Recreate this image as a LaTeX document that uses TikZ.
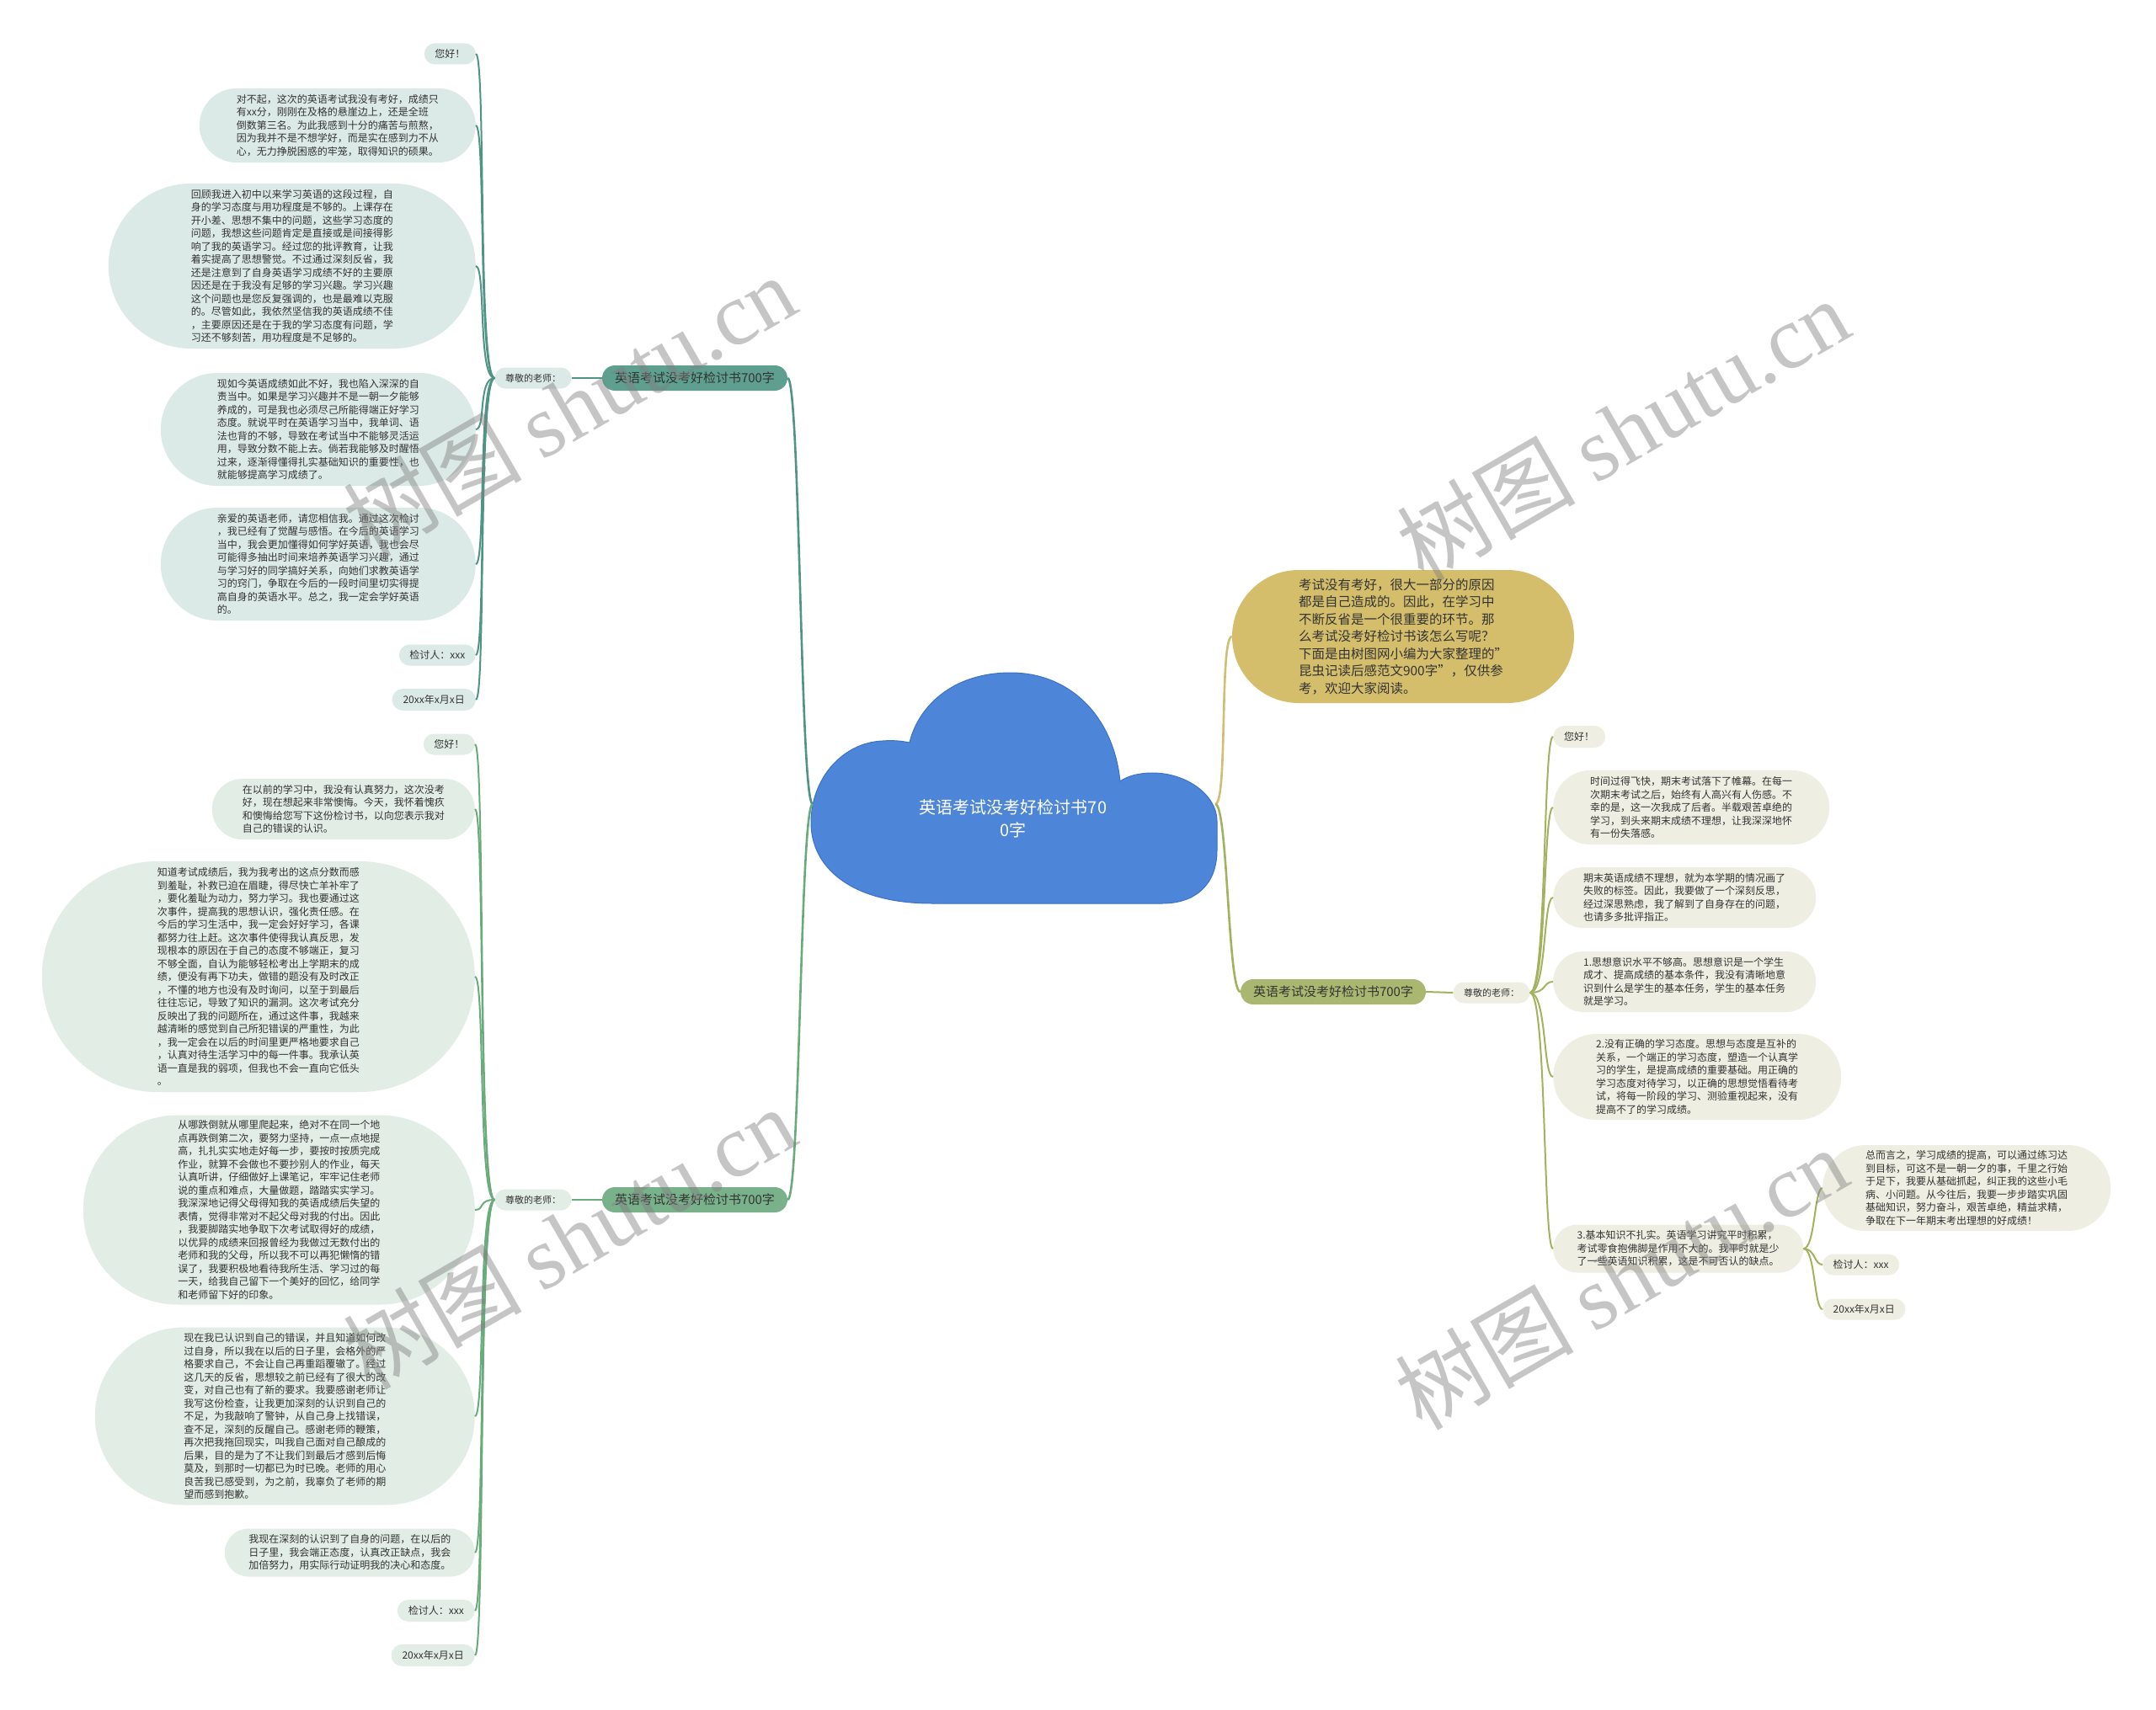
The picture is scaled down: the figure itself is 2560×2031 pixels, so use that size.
\documentclass[tikz,border=0pt]{standalone}
\usepackage{fontspec}
\setmainfont{Noto Sans CJK SC}
\newfontfamily\wmserif{Liberation Serif}
\definecolor{textdark}{HTML}{333333}
\definecolor{lineA}{HTML}{4F9484}
\definecolor{nodeA}{HTML}{5E9F8F}
\definecolor{leafA}{HTML}{DCEAE7}
\definecolor{lineB}{HTML}{6AAB7C}
\definecolor{nodeB}{HTML}{79B18A}
\definecolor{leafB}{HTML}{E2EDE5}
\definecolor{lineC}{HTML}{A3B25F}
\definecolor{nodeC}{HTML}{AAB771}
\definecolor{leafC}{HTML}{EEEEE2}
\definecolor{gold}{HTML}{D5BE6B}
\definecolor{goldline}{HTML}{CFBE74}
\definecolor{cloudfill}{HTML}{4D86D8}
\definecolor{cloudedge}{HTML}{3C72C8}
\begin{document}
\begin{tikzpicture}[x=1pt,y=-1pt,
  stad/.style={rectangle, minimum height=2*#1, inner xsep=#1, inner ysep=0pt, rounded corners=#1},
  leaf/.style={stad=#1, align=left, font=\fontsize{12}{15.5}\selectfont, text=textdark},
  leafA/.style={leaf=#1, fill=leafA},
  leafB/.style={leaf=#1, fill=leafB},
  leafC/.style={leaf=#1, fill=leafC},
  lab/.style={stad=12.5pt, font=\fontsize{11}{13}\selectfont, text=textdark},
  branch/.style={stad=15pt, font=\fontsize{15}{18}\selectfont, text=textdark},
  mainline/.style={line width=2.6pt},
  subline/.style={line width=2pt},
  wm/.style={rotate=30, text=gray, opacity=0.45, font=\fontsize{106}{110}\selectfont},
]
\useasboundingbox (0,0) rectangle (2560,2031);
\fill[white] (0,0) rectangle (2560,2031);

% ---------- central cloud ----------
\filldraw[fill=cloudfill, draw=cloudedge, line width=1pt]
  (1107,1073) -- (1380,1073)
  .. controls (1420,1073) and (1445,1050) .. (1445,1010)
  -- (1445,975)
  .. controls (1445,945) and (1410,918) .. (1368,918)
  .. controls (1352,918) and (1338,922) .. (1330,928)
  .. controls (1322,850) and (1270,799) .. (1200,799)
  .. controls (1130,799) and (1090,840) .. (1080,882)
  .. controls (1070,880) and (1060,879) .. (1048,880)
  .. controls (1000,882) and (963,925) .. (963,977)
  .. controls (963,1030) and (1010,1073) .. (1107,1073) -- cycle;
\node[text=white, align=center, font=\fontsize{20}{27}\selectfont] (center) at (1203,972) {英语考试没考好检讨书70\\0字};
\coordinate (cR) at (1443,955);
\coordinate (cL) at (965,955);

% ---------- intro ----------
\node[stad=79pt, fill=gold, align=left, text=textdark, font=\fontsize{15.5}{20.5}\selectfont] (intro) at (1666,756)
{考试没有考好，很大一部分的原因\\都是自己造成的。因此，在学习中\\不断反省是一个很重要的环节。那\\么考试没考好检讨书该怎么写呢？\\下面是由树图网小编为大家整理的"\\昆虫记读后感范文900字"，仅供参\\考，欢迎大家阅读。};

% ---------- branch A (top left) ----------
\node[branch, fill=nodeA] (A) at (825,449) {英语考试没考好检讨书700字};
\node[lab, fill=leafA] (labA) at (633,449) {尊敬的老师：};
\node[leafA=12.5pt, anchor=east] (a1) at (565,64) {您好！};
\node[leafA=44pt, anchor=east] (a2) at (565,149) {对不起，这次的英语考试我没有考好，成绩只\\有xx分，刚刚在及格的悬崖边上，还是全班\\倒数第三名。为此我感到十分的痛苦与煎熬，\\因为我并不是不想学好，而是实在感到力不从\\心，无力挣脱困惑的牢笼，取得知识的硕果。};
\node[leafA=98pt, anchor=east] (a3) at (565,316) {回顾我进入初中以来学习英语的这段过程，自\\身的学习态度与用功程度是不够的。上课存在\\开小差、思想不集中的问题，这些学习态度的\\问题，我想这些问题肯定是直接或是间接得影\\响了我的英语学习。经过您的批评教育，让我\\着实提高了思想警觉。不过通过深刻反省，我\\还是注意到了自身英语学习成绩不好的主要原\\因还是在于我没有足够的学习兴趣。学习兴趣\\这个问题也是您反复强调的，也是最难以克服\\的。尽管如此，我依然坚信我的英语成绩不佳\\，主要原因还是在于我的学习态度有问题，学\\习还不够刻苦，用功程度是不足够的。};
\node[leafA=67pt, anchor=east] (a4) at (565,510) {现如今英语成绩如此不好，我也陷入深深的自\\责当中。如果是学习兴趣并不是一朝一夕能够\\养成的，可是我也必须尽己所能得端正好学习\\态度。就说平时在英语学习当中，我单词、语\\法也背的不够，导致在考试当中不能够灵活运\\用，导致分数不能上去。倘若我能够及时醒悟\\过来，逐渐得懂得扎实基础知识的重要性，也\\就能够提高学习成绩了。};
\node[leafA=67pt, anchor=east] (a5) at (565,670) {亲爱的英语老师，请您相信我。通过这次检讨\\，我已经有了觉醒与感悟。在今后的英语学习\\当中，我会更加懂得如何学好英语，我也会尽\\可能得多抽出时间来培养英语学习兴趣，通过\\与学习好的同学搞好关系，向她们求教英语学\\习的窍门，争取在今后的一段时间里切实得提\\高自身的英语水平。总之，我一定会学好英语\\的。};
\node[leafA=12.5pt, anchor=east] (a6) at (565,778) {检讨人：xxx};
\node[leafA=13pt, anchor=east] (a7) at (565,831) {20xx年x月x日};

% ---------- branch B (bottom left) ----------
\node[branch, fill=nodeB] (B) at (825,1425) {英语考试没考好检讨书700字};
\node[lab, fill=leafB] (labB) at (633,1425) {尊敬的老师：};
\node[leafB=12.5pt, anchor=east] (b1) at (564,884) {您好！};
\node[leafB=36pt, anchor=east] (b2) at (564,961) {在以前的学习中，我没有认真努力，这次没考\\好，现在想起来非常懊悔。今天，我怀着愧疚\\和懊悔给您写下这份检讨书，以向您表示我对\\自己的错误的认识。};
\node[leafB=137pt, anchor=east] (b3) at (564,1160) {知道考试成绩后，我为我考出的这点分数而感\\到羞耻，补救已迫在眉睫，得尽快亡羊补牢了\\，要化羞耻为动力，努力学习。我也要通过这\\次事件，提高我的思想认识，强化责任感。在\\今后的学习生活中，我一定会好好学习，各课\\都努力往上赶。这次事件使得我认真反思，发\\现根本的原因在于自己的态度不够端正，复习\\不够全面，自认为能够轻松考出上学期末的成\\绩，便没有再下功夫，做错的题没有及时改正\\，不懂的地方也没有及时询问，以至于到最后\\往往忘记，导致了知识的漏洞。这次考试充分\\反映出了我的问题所在，通过这件事，我越来\\越清晰的感觉到自己所犯错误的严重性，为此\\，我一定会在以后的时间里更严格地要求自己\\，认真对待生活学习中的每一件事。我承认英\\语一直是我的弱项，但我也不会一直向它低头\\。};
\node[leafB=112.5pt, anchor=east] (b4) at (564,1437) {从哪跌倒就从哪里爬起来，绝对不在同一个地\\点再跌倒第二次，要努力坚持，一点一点地提\\高，扎扎实实地走好每一步，要按时按质完成\\作业，就算不会做也不要抄别人的作业，每天\\认真听讲，仔细做好上课笔记，牢牢记住老师\\说的重点和难点，大量做题，踏踏实实学习。\\我深深地记得父母得知我的英语成绩后失望的\\表情，觉得非常对不起父母对我的付出。因此\\，我要脚踏实地争取下次考试取得好的成绩，\\以优异的成绩来回报曾经为我做过无数付出的\\老师和我的父母，所以我不可以再犯懒惰的错\\误了，我要积极地看待我所生活、学习过的每\\一天，给我自己留下一个美好的回忆，给同学\\和老师留下好的印象。};
\node[leafB=105.5pt, anchor=east] (b5) at (564,1682) {现在我已认识到自己的错误，并且知道如何改\\过自身，所以我在以后的日子里，会格外的严\\格要求自己，不会让自己再重蹈覆辙了。经过\\这几天的反省，思想较之前已经有了很大的改\\变，对自己也有了新的要求。我要感谢老师让\\我写这份检查，让我更加深刻的认识到自己的\\不足，为我敲响了警钟，从自己身上找错误，\\查不足，深刻的反醒自己。感谢老师的鞭策，\\再次把我拖回现实，叫我自己面对自己酿成的\\后果，目的是为了不让我们到最后才感到后悔\\莫及，到那时一切都已为时已晚。老师的用心\\良苦我已感受到，为之前，我辜负了老师的期\\望而感到抱歉。};
\node[leafB=28.5pt, anchor=east] (b6) at (564,1844) {我现在深刻的认识到了自身的问题，在以后的\\日子里，我会端正态度，认真改正缺点，我会\\加倍努力，用实际行动证明我的决心和态度。};
\node[leafB=13pt, anchor=east] (b7) at (564,1913) {检讨人：xxx};
\node[leafB=13pt, anchor=east] (b8) at (564,1966) {20xx年x月x日};

% ---------- branch C (right) ----------
\node[branch, fill=nodeC] (C) at (1583,1178) {英语考试没考好检讨书700字};
\node[lab, fill=leafC] (labC) at (1771,1179) {尊敬的老师：};
\node[leafC=13pt, anchor=west] (c1) at (1844,875) {您好！};
\node[leafC=44pt, anchor=west] (c2) at (1844,959) {时间过得飞快，期末考试落下了帷幕。在每一\\次期末考试之后，始终有人高兴有人伤感。不\\幸的是，这一次我成了后者。半载艰苦卓绝的\\学习，到头来期末成绩不理想，让我深深地怀\\有一份失落感。};
\node[leafC=36pt, anchor=west] (c3) at (1844,1066) {期末英语成绩不理想，就为本学期的情况画了\\失败的标签。因此，我要做了一个深刻反思，\\经过深思熟虑，我了解到了自身存在的问题，\\也请多多批评指正。};
\node[leafC=36pt, anchor=west] (c4) at (1844,1166) {1.思想意识水平不够高。思想意识是一个学生\\成才、提高成绩的基本条件，我没有清晰地意\\识到什么是学生的基本任务，学生的基本任务\\就是学习。};
\node[leafC=51pt, anchor=west] (c5) at (1844,1279) {2.没有正确的学习态度。思想与态度是互补的\\关系，一个端正的学习态度，塑造一个认真学\\习的学生，是提高成绩的重要基础。用正确的\\学习态度对待学习，以正确的思想觉悟看待考\\试，将每一阶段的学习、测验重视起来，没有\\提高不了的学习成绩。};
\node[leafC=28.5pt, anchor=west] (c6) at (1844,1483) {3.基本知识不扎实。英语学习讲究平时积累，\\考试零食抱佛脚是作用不大的。我平时就是少\\了一些英语知识积累，这是不可否认的缺点。};
\node[leafC=51pt, anchor=west] (c7) at (2164,1411) {总而言之，学习成绩的提高，可以通过练习达\\到目标，可这不是一朝一夕的事，千里之行始\\于足下，我要从基础抓起，纠正我的这些小毛\\病、小问题。从今往后，我要一步步踏实巩固\\基础知识，努力奋斗，艰苦卓绝，精益求精，\\争取在下一年期末考出理想的好成绩！};
\node[leafC=12.5pt, anchor=west] (c8) at (2164,1502) {检讨人：xxx};
\node[leafC=12.5pt, anchor=west] (c9) at (2164,1555) {20xx年x月x日};

% ---------- connectors ----------
\draw[mainline, draw=goldline] (cR) .. controls +(15,0) and +(-15,0) .. (intro.west);
\draw[mainline, draw=lineC] (cR) .. controls +(15,0) and +(-15,0) .. (C.west);
\draw[mainline, draw=lineA] (cL) .. controls +(-15,0) and +(15,0) .. (A.east);
\draw[mainline, draw=lineB] (cL) .. controls +(-15,0) and +(15,0) .. (B.east);
\draw[subline, draw=lineA] (A.west) -- (labA.east);
\draw[subline, draw=lineB] (B.west) -- (labB.east);
\draw[subline, draw=lineC] (C.east) -- (labC.west);
\foreach \n in {a1,a2,a3,a4,a5,a6,a7}
  \draw[subline, draw=lineA] (labA.west) .. controls +(-20,0) and +(12,0) .. (\n.east);
\foreach \n in {b1,b2,b3,b4,b5,b6,b7,b8}
  \draw[subline, draw=lineB] (labB.west) .. controls +(-20,0) and +(12,0) .. (\n.east);
\foreach \n in {c1,c2,c3,c4,c5,c6}
  \draw[subline, draw=lineC] (labC.east) .. controls +(20,0) and +(-12,0) .. (\n.west);
\foreach \n in {c7,c8,c9}
  \draw[subline, draw=lineC] (c6.east) .. controls +(14,0) and +(-10,0) .. (\n.west);

% ---------- watermarks ----------
\node[wm] (w1) at (676,482) {树图 {\wmserif shutu.cn}};
\node[wm] (w2) at (1927,510) {树图 {\wmserif shutu.cn}};
\node[wm] (w3) at (676,1470) {树图 {\wmserif shutu.cn}};
\node[wm] (w4) at (1925,1518) {树图 {\wmserif shutu.cn}};
\end{tikzpicture}
\end{document}
